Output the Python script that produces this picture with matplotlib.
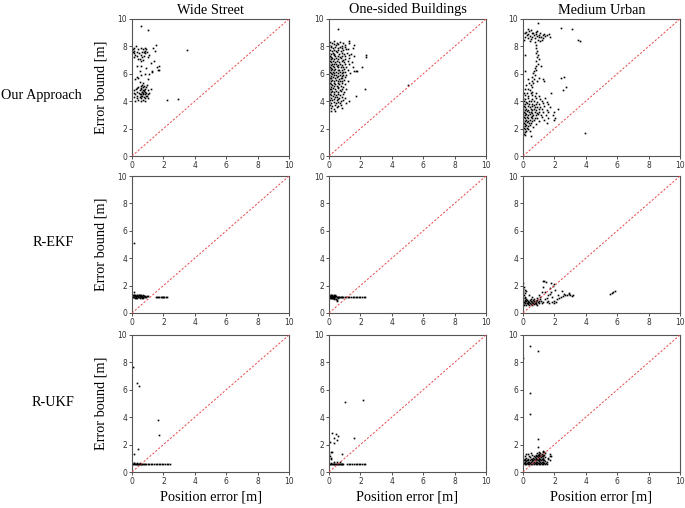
import matplotlib
matplotlib.use("Agg")
import matplotlib.pyplot as plt

# ---------------- data (position error, error bound) ----------------
cols = ["Wide Street", "One-sided Buildings", "Medium Urban"]
rows = ["Our Approach", "R-EKF", "R-UKF"]
ticks = [0, 2, 4, 6, 8, 10]

ws_ours = [
    (0.05,7.6),(0.1,7.5),(0.15,7.7),(0.1,7.9),(0.2,7.4),(0.25,8.0),(0.3,7.6),(0.35,7.3),(0.4,7.8),(0.45,7.5),
    (0.5,7.1),(0.55,7.9),(0.6,7.4),(0.65,7.6),(0.7,7.8),(0.75,7.3),(0.8,7.7),(0.85,7.5),(0.9,7.8),(0.95,7.6),
    (1.0,7.2),(0.7,7.0),(0.55,6.9),(0.15,7.2),(0.05,7.8),(0.4,7.1),(0.85,7.9),(0.78,7.6),(0.65,7.2),(1.1,7.4),
    (1.35,7.9),(1.5,8.1),(1.45,7.7),
    (0.3,6.6),(0.5,6.2),(0.6,5.9),(0.9,6.4),(1.2,6.8),(1.3,6.2),(1.6,6.5),(1.7,6.3),(1.75,6.6),(1.65,6.3),
    (0.8,6.0),(1.0,5.6),(0.4,5.7),(0.2,5.6),(0.5,5.4),(0.7,5.3),(1.1,6.0),(0.95,5.2),(0.35,5.8),(1.4,6.9),
    (0.6,6.6),(1.25,6.1),
    (0.1,4.6),(0.15,4.8),(0.2,4.5),(0.25,4.9),(0.3,4.7),(0.35,4.4),(0.4,5.0),(0.45,4.6),(0.5,4.3),(0.5,4.8),
    (0.55,5.1),(0.55,4.5),(0.6,4.9),(0.6,4.2),(0.65,4.7),(0.65,4.4),(0.7,5.0),(0.7,4.6),(0.7,4.1),(0.75,4.8),
    (0.75,4.3),(0.8,4.9),(0.8,4.5),(0.8,4.0),(0.85,4.7),(0.85,4.2),(0.9,4.6),(0.9,5.0),(0.95,4.4),(1.0,4.8),
    (1.0,4.5),(1.05,4.2),(0.6,4.0),(0.4,4.1),(0.3,4.2),(0.2,4.0),(0.65,5.2),(0.75,5.1),(0.55,4.95),(0.68,4.85),
    (0.72,4.55),(0.62,4.65),(0.78,4.75),(0.58,4.35),(0.88,4.35),(0.48,4.55),(0.15,4.3),(1.1,4.6),(1.2,4.9),
    (0.35,4.95),
    (0.6,9.5),(1.0,9.2),(3.5,7.75),(2.2,4.1),(2.95,4.15),
]

ob_ours = [
    (0.05,8.32),(0.2,8.25),(0.35,8.38),(0.5,8.28),(0.7,8.35),(0.9,8.22),
    (0.0,8.12),(0.15,8.05),(0.3,8.15),(0.45,8.08),(0.6,8.18),(0.8,8.02),(1.05,8.1),(1.3,8.4),
    (0.1,7.92),(0.25,7.85),(0.4,7.95),(0.55,7.88),(0.7,7.98),(0.85,7.86),(1.0,7.93),(1.2,7.82),(1.5,7.9),
    (0.05,7.72),(0.2,7.66),(0.3,7.75),(0.45,7.68),(0.6,7.74),(0.75,7.65),(0.9,7.71),(1.1,7.78),
    (0.0,7.52),(0.1,7.45),(0.25,7.55),(0.35,7.48),(0.5,7.56),(0.65,7.44),(0.8,7.51),(0.95,7.47),(1.15,7.55),(1.4,7.42),
    (0.05,7.31),(0.15,7.26),(0.3,7.35),(0.4,7.28),(0.55,7.33),(0.7,7.25),(0.85,7.32),(1.0,7.27),(1.25,7.36),(1.6,7.3),
    (0.0,7.12),(0.1,7.05),(0.2,7.15),(0.35,7.08),(0.45,7.14),(0.6,7.06),(0.75,7.12),(0.9,7.04),(1.05,7.1),(1.3,7.15),
    (0.05,6.92),(0.15,6.86),(0.25,6.95),(0.4,6.88),(0.5,6.93),(0.65,6.85),(0.8,6.91),(0.95,6.87),(1.2,6.94),(1.45,6.88),
    (0.0,6.72),(0.1,6.66),(0.2,6.75),(0.3,6.68),(0.45,6.73),(0.55,6.65),(0.7,6.71),(0.85,6.67),(1.0,6.74),(1.3,6.7),
    (0.05,6.52),(0.15,6.45),(0.25,6.55),(0.35,6.48),(0.5,6.54),(0.6,6.46),(0.75,6.52),(0.9,6.47),(1.1,6.53),(1.5,6.5),
    (0.0,6.32),(0.1,6.26),(0.2,6.35),(0.3,6.28),(0.4,6.33),(0.55,6.25),(0.65,6.31),(0.8,6.27),(0.95,6.34),(1.2,6.3),
    (0.05,6.12),(0.15,6.06),(0.25,6.15),(0.35,6.08),(0.45,6.13),(0.6,6.05),(0.7,6.11),(0.8,6.07),(0.9,6.14),(1.05,6.1),(1.35,6.05),
    (0.0,5.92),(0.1,5.86),(0.2,5.95),(0.3,5.88),(0.45,5.93),(0.55,5.85),(0.7,5.91),(0.8,5.87),(0.9,5.94),(1.1,5.9),
    (0.05,5.72),(0.15,5.66),(0.25,5.75),(0.4,5.68),(0.5,5.73),(0.65,5.65),(0.75,5.71),(0.85,5.67),(1.0,5.74),
    (0.0,5.52),(0.1,5.46),(0.2,5.55),(0.35,5.48),(0.45,5.53),(0.6,5.45),(0.7,5.51),(0.8,5.47),(0.95,5.54),(1.2,5.5),
    (0.05,5.32),(0.15,5.26),(0.3,5.35),(0.4,5.28),(0.55,5.33),(0.65,5.25),(0.8,5.31),(1.0,5.27),
    (0.0,5.12),(0.1,5.06),(0.2,5.15),(0.35,5.08),(0.5,5.13),(0.6,5.05),(0.75,5.11),(0.9,5.07),
    (0.05,4.92),(0.15,4.86),(0.25,4.95),(0.4,4.88),(0.55,4.93),(0.7,4.85),(0.85,4.91),(1.1,4.87),
    (0.0,4.72),(0.1,4.66),(0.2,4.75),(0.3,4.68),(0.45,4.73),(0.6,4.65),(0.75,4.71),(0.95,4.67),
    (0.05,4.52),(0.15,4.46),(0.3,4.55),(0.45,4.48),(0.55,4.53),(0.7,4.45),(0.9,4.51),
    (0.0,4.32),(0.1,4.26),(0.25,4.35),(0.4,4.28),(0.5,4.33),(0.65,4.25),(0.8,4.31),(1.0,4.27),
    (0.05,4.12),(0.2,4.06),(0.35,4.15),(0.5,4.08),(0.6,4.13),(0.75,4.05),(0.9,4.11),
    (0.0,3.92),(0.15,3.86),(0.3,3.95),(0.45,3.88),(0.6,3.93),(0.7,3.85),(1.1,3.9),
    (0.05,3.72),(0.2,3.66),(0.4,3.75),(0.55,3.68),(0.75,3.7),
    (0.1,3.52),(0.3,3.46),(0.5,3.55),(0.8,3.48),(0.15,3.3),(0.4,3.25),
    (2.35,7.4),(2.35,7.2),(2.3,4.9),(1.75,4.4),(5.0,5.2),(1.6,6.2),(1.7,6.2),(1.8,6.2),(1.6,8.1),
    (2.1,6.5),(0.6,9.3),(1.3,4.0),(1.25,8.25),
]

mu_ours = [
    (0.1,8.95),(0.15,8.7),(0.2,9.05),(0.25,8.8),(0.3,8.6),(0.35,8.9),(0.4,9.1),(0.45,8.75),(0.5,8.55),(0.55,8.95),
    (0.6,8.7),(0.65,9.0),(0.7,8.8),(0.75,8.6),(0.8,8.9),(0.85,9.05),(0.9,8.75),(0.95,8.5),(1.0,8.85),(1.05,8.65),
    (1.1,8.95),(1.15,8.7),(1.2,8.45),(1.25,8.8),(1.3,8.6),(1.35,8.9),(1.4,8.75),(1.5,8.85),(1.65,8.9),(1.75,8.7),
    (0.3,9.3),(0.5,9.2),(0.0,9.0),(0.05,8.5),(0.45,8.4),(0.9,9.1),(1.1,8.4),(0.75,8.3),
    (0.85,8.1),(0.8,7.9),(0.9,7.7),(0.85,7.5),(0.95,7.35),(0.9,7.2),(1.0,7.05),(0.85,6.9),(0.95,6.75),(0.8,6.6),
    (0.75,6.45),(0.85,6.3),(0.7,6.2),(0.65,6.05),(0.75,5.9),(0.6,5.75),(0.7,5.6),(0.55,5.45),(0.65,5.3),(0.5,5.15),
    (0.6,5.0),(0.45,4.85),(0.55,4.7),(0.9,5.5),(1.0,5.7),(1.25,5.6),(1.35,5.5),(1.15,6.6),(0.4,5.3),(0.3,4.9),
    (0.2,5.2),(0.1,6.2),(0.15,7.4),(0.1,4.9),(0.35,5.6),
    (0.05,4.6),(0.25,4.63),(0.5,4.57),(0.85,4.62),
    (0.1,4.42),(0.3,4.36),(0.55,4.44),(0.75,4.38),(1.0,4.41),
    (0.0,4.22),(0.15,4.17),(0.35,4.24),(0.6,4.18),(0.8,4.23),(1.1,4.16),(1.4,4.2),
    (0.05,4.02),(0.2,3.96),(0.4,4.05),(0.5,3.98),(0.7,4.03),(0.9,3.95),(1.2,4.01),(1.5,3.97),
    (0.0,3.82),(0.1,3.76),(0.25,3.85),(0.4,3.78),(0.55,3.83),(0.7,3.75),(0.85,3.81),(1.0,3.77),(1.25,3.84),(1.6,3.8),
    (0.05,3.62),(0.15,3.56),(0.3,3.65),(0.45,3.58),(0.6,3.63),(0.75,3.55),(0.9,3.61),(1.1,3.57),(1.35,3.64),(1.7,3.6),
    (0.0,3.42),(0.1,3.36),(0.2,3.45),(0.35,3.38),(0.5,3.43),(0.6,3.35),(0.7,3.41),(0.85,3.37),(1.0,3.44),(1.2,3.4),(1.5,3.36),(2.2,3.4),
    (0.05,3.22),(0.15,3.16),(0.25,3.25),(0.4,3.18),(0.5,3.23),(0.6,3.15),(0.75,3.21),(0.9,3.17),(1.05,3.24),(1.3,3.2),(1.6,3.18),
    (0.0,3.02),(0.1,2.96),(0.2,3.05),(0.3,2.98),(0.45,3.03),(0.55,2.95),(0.65,3.01),(0.8,2.97),(0.95,3.04),(1.15,3.0),(1.45,2.96),(1.9,3.0),
    (0.05,2.82),(0.15,2.76),(0.25,2.85),(0.35,2.78),(0.5,2.83),(0.6,2.75),(0.75,2.81),(0.9,2.77),(1.2,2.84),(1.6,2.8),
    (0.0,2.62),(0.1,2.56),(0.2,2.65),(0.3,2.58),(0.45,2.63),(0.55,2.55),(0.7,2.61),(1.0,2.57),(1.35,2.64),(1.95,2.6),
    (0.05,2.42),(0.15,2.36),(0.25,2.45),(0.4,2.38),(0.5,2.43),(0.8,2.35),(1.5,2.4),
    (0.0,2.22),(0.1,2.16),(0.2,2.25),(0.3,2.18),(0.45,2.23),(0.65,2.15),
    (0.05,2.02),(0.15,1.96),(0.25,2.05),(0.35,1.98),
    (0.0,1.82),(0.1,1.76),(0.2,1.85),(0.45,1.8),(0.05,1.62),(0.15,1.56),(0.5,1.45),
    (0.95,9.7),(2.4,9.35),(3.1,9.28),(3.5,8.5),(3.65,8.4),(2.4,5.72),(2.6,5.78),(2.55,4.85),(2.75,5.0),
    (1.8,4.6),(3.98,1.68),(2.05,2.75),(2.0,3.2),
]

ws_ekf = [
    (0.0,1.25),(0.05,1.3),(0.08,1.2),(0.1,1.35),(0.12,1.15),(0.15,1.28),(0.18,1.22),(0.2,1.32),(0.22,1.12),
    (0.25,1.25),(0.28,1.18),(0.3,1.3),(0.32,1.1),(0.35,1.22),(0.38,1.27),(0.4,1.14),(0.42,1.3),(0.45,1.2),
    (0.48,1.25),(0.5,1.12),(0.52,1.28),(0.55,1.18),(0.58,1.23),(0.6,1.3),(0.62,1.15),(0.65,1.25),(0.68,1.2),
    (0.7,1.28),(0.72,1.12),(0.75,1.22),(0.78,1.27),(0.8,1.18),(0.85,1.24),(0.9,1.2),(0.95,1.25),(1.0,1.22),
    (0.1,1.5),(0.15,5.1),(0.05,1.15),(0.25,1.1),(0.45,1.3),(0.65,1.1),(0.35,1.32),
    (1.55,1.15),(1.6,1.15),(1.65,1.15),(1.7,1.15),(1.85,1.15),(1.9,1.15),(1.95,1.15),(2.0,1.15),
    (2.05,1.15),(2.15,1.15),(2.2,1.15),
]

ob_ekf = [
    (0.0,1.2),(0.03,1.3),(0.05,1.1),(0.08,1.25),(0.1,1.35),(0.12,1.15),(0.15,1.28),(0.18,1.08),(0.2,1.22),
    (0.22,1.3),(0.25,1.12),(0.28,1.25),(0.3,1.18),(0.33,1.3),(0.35,1.1),(0.38,1.22),(0.4,1.15),(0.42,1.27),
    (0.45,1.05),(0.48,1.2),(0.5,0.95),(0.52,0.9),(0.55,1.15),(0.58,1.2),(0.6,1.1),(0.65,1.2),(0.7,1.15),
    (0.75,1.18),(0.8,1.15),(0.85,1.17),(0.9,1.15),(1.0,1.16),(1.1,1.15),(1.2,1.15),(1.3,1.14),(1.4,1.15),
    (1.5,1.15),(1.6,1.15),(1.7,1.16),(1.8,1.15),(1.9,1.15),(2.0,1.14),(2.1,1.15),(2.2,1.15),(2.3,1.15),
    (0.05,1.25),(0.15,1.18),(0.25,1.2),(0.35,1.25),(0.1,1.1),(0.2,1.12),(0.3,1.05),(0.4,1.3),(0.45,1.0),
]

mu_ekf = [
    (0.0,0.65),(0.05,0.8),(0.1,0.7),(0.15,0.9),(0.2,0.62),(0.25,0.75),(0.3,0.85),(0.35,0.65),(0.4,0.78),
    (0.45,0.95),(0.5,0.68),(0.55,0.82),(0.6,0.62),(0.65,0.75),(0.7,0.9),(0.75,0.7),(0.8,0.85),(0.85,0.65),
    (0.9,0.98),(0.95,0.78),(1.0,0.9),(1.05,0.7),(1.1,1.0),(1.15,0.85),(1.2,0.75),(0.1,0.95),(0.2,0.85),
    (0.3,0.7),(0.4,0.62),(0.5,0.9),(0.6,0.8),(0.7,0.65),(0.8,0.72),(0.9,0.62),(0.0,0.9),(0.05,0.62),
    (0.15,0.7),(0.25,0.95),(0.35,0.8),(0.45,0.7),(0.55,0.65),(0.65,0.95),(0.75,0.82),(0.85,0.9),
    (0.0,1.1),(0.05,1.3),(0.02,1.5),(0.1,1.7),(0.05,1.9),(0.0,2.2),(0.15,1.2),(0.2,1.0),(0.1,1.45),
    (0.0,1.75),(0.2,1.6),(0.15,1.1),
    (0.5,1.05),(0.6,1.2),(0.4,1.3),(0.7,1.0),(0.9,1.1),(1.0,1.35),(1.1,1.2),(1.2,1.5),(1.25,2.35),
    (1.35,2.3),(1.45,2.25),(1.3,1.9),(1.4,1.0),(1.5,0.8),(1.6,0.85),(1.7,1.4),(1.75,1.8),(1.8,1.5),
    (1.85,1.2),(1.9,2.0),(2.0,2.1),(2.05,1.7),(2.1,0.8),(2.15,1.0),(1.95,0.9),(2.2,1.3),(1.55,1.1),
    (1.65,0.75),(1.85,0.78),(2.0,0.75),(2.3,1.1),(1.3,0.8),(1.4,1.5),(1.8,2.2),(1.6,1.3),
    (2.5,1.6),(2.6,1.4),(2.7,1.3),(2.8,1.35),(2.9,1.45),(3.0,1.3),(3.1,1.25),(3.2,1.35),(2.95,1.4),
    (2.4,1.2),(2.55,1.25),
    (5.55,1.4),(5.65,1.45),(5.75,1.5),(5.85,1.6),
]

ws_ukf = [
    (0.0,0.6),(0.05,0.62),(0.1,0.6),(0.15,0.63),(0.2,0.6),(0.25,0.61),(0.3,0.6),(0.35,0.62),(0.4,0.6),
    (0.45,0.61),(0.5,0.6),(0.55,0.62),(0.6,0.6),(0.65,0.61),(0.7,0.6),(0.75,0.62),(0.8,0.6),(0.9,0.6),
    (1.0,0.6),(1.1,0.6),(1.2,0.6),(1.3,0.6),(1.4,0.6),(1.5,0.6),(1.6,0.6),(1.7,0.6),(1.8,0.6),(1.9,0.6),
    (2.0,0.6),(2.1,0.6),(2.2,0.6),(2.3,0.6),(2.4,0.6),(0.12,0.66),(0.32,0.65),(0.52,0.66),
    (0.05,7.7),(0.3,6.5),(0.45,6.3),(1.65,3.8),(1.7,2.7),(0.4,1.65),(0.15,1.3),
]

ob_ukf = [
    (0.0,0.6),(0.05,0.62),(0.1,0.6),(0.15,0.63),(0.2,0.6),(0.25,0.61),(0.3,0.6),(0.35,0.62),(0.4,0.6),
    (0.45,0.61),(0.5,0.6),(0.55,0.62),(0.6,0.6),(0.65,0.61),(0.7,0.6),(0.75,0.62),(0.8,0.6),(0.85,0.6),
    (0.9,0.6),(1.15,0.6),(1.25,0.6),(1.35,0.6),(1.45,0.6),(1.6,0.6),(1.7,0.6),(1.8,0.6),(1.9,0.6),
    (2.0,0.6),(2.1,0.6),(2.2,0.6),(2.3,0.6),
    (1.0,5.1),(2.15,5.25),(0.2,2.85),(0.45,2.8),(0.6,2.65),(0.35,2.5),(0.5,2.35),(0.3,2.15),(1.6,2.45),
    (0.8,1.3),(0.1,1.45),(0.2,1.45),(0.05,1.15),(0.1,0.95),(0.05,2.2),(0.15,1.0),(0.0,1.3),(0.3,0.75),
    (0.5,0.7),(0.7,0.7),
]

mu_ukf = [
    (0.0,0.55),(0.1,0.56),(0.2,0.55),(0.3,0.57),(0.4,0.55),(0.5,0.56),(0.6,0.55),(0.7,0.57),(0.8,0.55),
    (0.9,0.56),(1.0,0.55),(1.1,0.57),(1.2,0.55),(1.3,0.56),(1.4,0.55),(1.5,0.56),
    (0.05,0.66),(0.15,0.64),(0.25,0.67),(0.35,0.65),(0.45,0.66),(0.55,0.64),(0.65,0.67),(0.75,0.65),
    (0.85,0.66),(0.95,0.64),(1.05,0.67),(1.15,0.65),(1.25,0.66),(1.35,0.64),(1.45,0.67),
    (0.0,0.76),(0.1,0.74),(0.2,0.77),(0.3,0.75),(0.4,0.76),(0.5,0.74),(0.6,0.77),(0.7,0.75),(0.8,0.76),
    (0.9,0.74),(1.0,0.77),(1.1,0.75),(1.2,0.76),(1.3,0.74),(1.4,0.77),(1.55,0.75),
    (0.05,0.86),(0.15,0.84),(0.25,0.87),(0.35,0.85),(0.45,0.86),(0.55,0.84),(0.65,0.87),(0.75,0.85),
    (0.85,0.86),(0.95,0.84),(1.05,0.87),(1.15,0.85),(1.25,0.86),(1.35,0.84),
    (0.0,0.96),(0.1,0.94),(0.3,0.97),(0.5,0.95),(0.6,0.96),(0.7,0.94),(0.8,0.97),(0.9,0.95),(1.0,0.96),
    (1.1,0.94),(1.2,0.97),(1.3,0.95),(1.6,0.96),
    (0.2,1.05),(0.45,1.06),(0.65,1.04),(0.75,1.07),(0.85,1.05),(0.95,1.06),(1.05,1.04),(1.15,1.07),
    (1.25,1.05),(1.4,1.06),
    (0.1,1.15),(0.4,1.16),(0.7,1.14),(0.8,1.17),(0.9,1.15),(1.0,1.16),(1.1,1.14),(1.2,1.17),(1.3,1.15),(1.7,1.16),
    (0.6,1.25),(0.85,1.26),(0.95,1.24),(1.05,1.27),(1.15,1.25),(1.25,1.26),(1.35,1.24),
    (0.3,1.35),(0.9,1.36),(1.0,1.34),(1.1,1.37),(1.2,1.35),(1.4,1.36),(1.75,1.34),
    (1.05,1.45),(1.25,1.46),(1.35,1.44),(1.3,1.55),
    (0.45,9.2),(0.95,8.85),(0.45,5.8),(0.45,4.2),(0.95,2.4),(0.95,1.8),(0.5,1.4),(0.2,1.35),(0.0,8.3),
    (1.6,1.0),(1.7,0.9),(1.8,1.2),
]

panels = [[ws_ours, ob_ours, mu_ours],
          [ws_ekf, ob_ekf, mu_ekf],
          [ws_ukf, ob_ukf, mu_ukf]]

# ---------------- figure ----------------
W, H = 685, 508
fig = plt.figure(figsize=(W / 100, H / 100), dpi=100)
serif = "Liberation Serif"
fs = 10.3

col_left = [132, 329, 523]
ax_w = 157
row_top = [19, 176, 335]
ax_h = 137
row_label_pos = [(41, 96), (53, 242), (53, 402)]

def fx(px):
    return px / W

def fy(py):
    return 1 - py / H

for r in range(3):
    for c in range(3):
        ax = fig.add_axes([fx(col_left[c]), fy(row_top[r] + ax_h), ax_w / W, ax_h / H])
        pts = panels[r][c]
        xs = [p[0] for p in pts]
        ys = [p[1] for p in pts]
        ax.plot([0, 10], [0, 10], color="#e8474a", linestyle=(0, (2.2, 1.8)), linewidth=0.7, zorder=3)
        ax.plot(xs, ys, linestyle="none", marker="s", markersize=1.2, color="black",
                markeredgewidth=0, zorder=2)
        ax.set_xlim(0, 10)
        ax.set_ylim(0, 10)
        ax.set_xticks(ticks)
        ax.set_yticks(ticks)
        ax.tick_params(labelsize=5.5, length=2, width=0.6, pad=1.5, colors="#333333")
        for s in ax.spines.values():
            s.set_linewidth(0.8)
            s.set_color("#555555")
        if c == 0:
            fig.text(fx(101), fy(row_top[r] + ax_h / 2), "Error bound [m]", rotation=90,
                     fontfamily=serif, fontsize=fs, ha="center", va="center")
        if r == 0:
            fig.text(fx(col_left[c] + ax_w / 2), fy(10), cols[c], fontfamily=serif,
                     fontsize=fs, ha="center", va="center")
        if r == 2:
            fig.text(fx(col_left[c] + ax_w / 2), fy(497), "Position error [m]",
                     fontfamily=serif, fontsize=fs, ha="center", va="center")

for r in range(3):
    x, y = row_label_pos[r]
    fig.text(fx(x), fy(y), rows[r], fontfamily=serif, fontsize=fs, ha="center", va="center")

fig.savefig("out.png", dpi=100)
